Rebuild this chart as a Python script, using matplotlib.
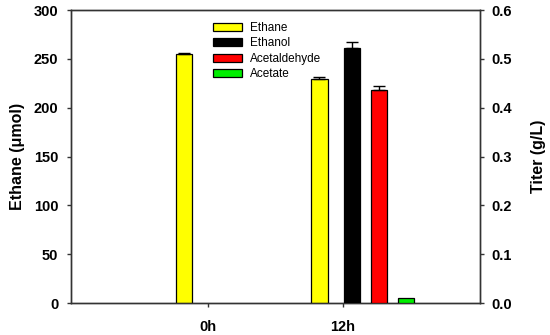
import matplotlib
matplotlib.use("Agg")
import matplotlib.pyplot as plt
from matplotlib.patches import Patch

plt.rcParams['font.family'] = ['Liberation Sans', 'DejaVu Sans']

# Data
timepoints = ["0h", "12h"]
ethane_umol = [255, 229]
ethane_err = [1, 2]
titer_series = ["Ethanol", "Acetaldehyde", "Acetate"]
titer_gL = {"Ethanol": [0.0, 0.522], "Acetaldehyde": [0.0, 0.436], "Acetate": [0.0, 0.010]}
titer_err = {"Ethanol": [0.0, 0.012], "Acetaldehyde": [0.0, 0.008], "Acetate": [0.0, 0.0]}
colors = {"Ethane": "#ffff00", "Ethanol": "#000000", "Acetaldehyde": "#ff0000", "Acetate": "#00ee00"}
offsets = {"Ethane": -0.175, "Ethanol": 0.067, "Acetaldehyde": 0.267, "Acetate": 0.467}
width = 0.12

fig = plt.figure(figsize=(5.5, 3.35), dpi=100)
ax = fig.add_axes([0.129, 0.0955, 0.744, 0.8745])
ax2 = ax.twinx()

xs = list(range(len(timepoints)))
ax.bar([x + offsets["Ethane"] for x in xs], ethane_umol, width=width,
       color=colors["Ethane"], edgecolor='black', linewidth=0.9, zorder=3)
ax.errorbar([x + offsets["Ethane"] for x in xs], ethane_umol,
            yerr=[[0]*len(xs), ethane_err], fmt='none', ecolor='black',
            elinewidth=1, capsize=4, capthick=1, zorder=4)

for s in titer_series:
    vals = titer_gL[s]
    idx = [i for i, v in enumerate(vals) if v > 0]
    px = [xs[i] + offsets[s] for i in idx]
    pv = [vals[i] for i in idx]
    pe = [titer_err[s][i] for i in idx]
    ax2.bar(px, pv, width=width, color=colors[s], edgecolor='black', linewidth=0.9, zorder=3)
    if any(e > 0 for e in pe):
        ax2.errorbar(px, pv, yerr=[[0]*len(pe), pe], fmt='none', ecolor='black',
                     elinewidth=1, capsize=4, capthick=1, zorder=4)

ax.set_xlim(-1.015, 2.015)
ax.set_ylim(0, 300)
ax2.set_ylim(0, 0.6)
ax.set_yticks([0, 50, 100, 150, 200, 250, 300])
ax2.set_yticks([0.0, 0.1, 0.2, 0.3, 0.4, 0.5, 0.6])
ax2.set_yticklabels([f"{v:.1f}" for v in [0.0, 0.1, 0.2, 0.3, 0.4, 0.5, 0.6]])
ax.set_xticks(xs)
ax.set_xticklabels(timepoints)

for a in (ax, ax2):
    for sp in a.spines.values():
        sp.set_color('#333333')
        sp.set_linewidth(1.0)
    a.tick_params(direction='out', length=3, width=1, color='#333333', labelsize=10.5)
    for lab in a.get_yticklabels() + a.get_xticklabels():
        lab.set_fontweight('bold')
ax.tick_params(axis='x', length=3, pad=9)
ax.tick_params(axis='y', pad=6)
ax2.tick_params(axis='y', pad=5)

ax.set_ylabel("Ethane (\u03bcmol)", fontsize=11.5, fontweight='bold', labelpad=6)
ax2.set_ylabel("Titer (g/L)", fontsize=11.5, fontweight='bold', labelpad=14)

handles = [Patch(facecolor=colors[k], edgecolor='black', linewidth=0.9)
           for k in ["Ethane", "Ethanol", "Acetaldehyde", "Acetate"]]
leg = ax.legend(handles, ["Ethane", "Ethanol", "Acetaldehyde", "Acetate"],
                loc='upper left', bbox_to_anchor=(0.335, 0.975), frameon=False,
                fontsize=8.5, handlelength=2.5, handleheight=0.65, labelspacing=0.28,
                handletextpad=0.65, borderaxespad=0)

fig.savefig("out.png", dpi=100)
